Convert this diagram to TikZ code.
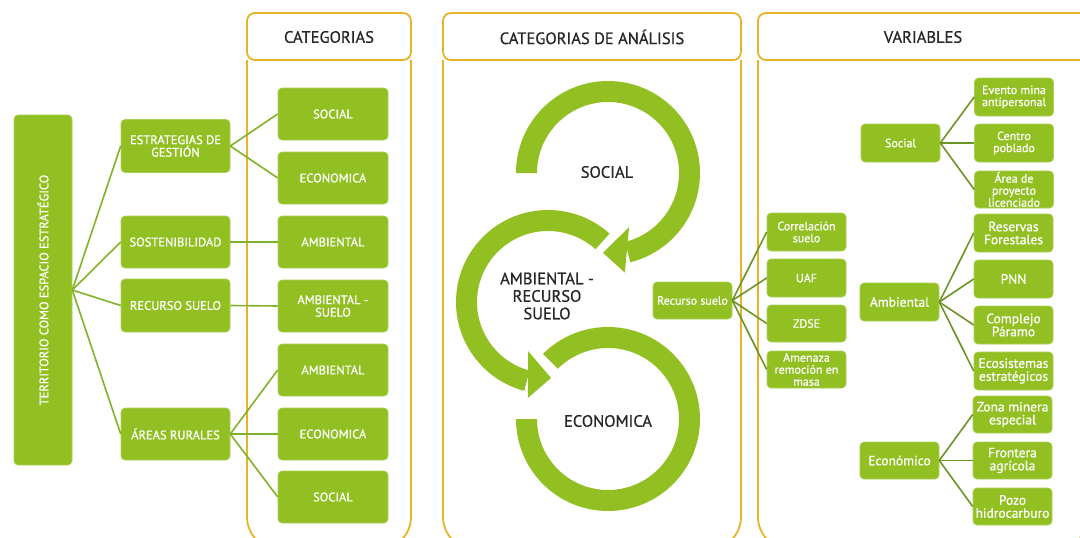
\documentclass[tikz,border=0pt]{standalone}
\usepackage{fontspec}
\setmainfont{PT Sans}[FakeBold=0.7]
\newfontfamily\medf{PT Sans}[FakeBold=0.7]
\definecolor{gr}{RGB}{146,192,35}
\definecolor{grl}{RGB}{170,208,86}
\definecolor{lnA}{RGB}{130,178,42}
\definecolor{lnB}{RGB}{108,148,38}
\definecolor{gold}{RGB}{231,180,40}
\tikzset{
 box/.style={fill=gr, draw=grl, line width=0.6pt, rounded corners=4pt, text=white, align=center, inner sep=1pt},
 fntA/.style={font=\medf\fontsize{12.5}{12.5}\selectfont},
 fntB/.style={font=\medf\fontsize{12}{12}\selectfont},
 fntC/.style={font=\medf\fontsize{13.5}{13}\selectfont},
 lbox/.style={box, fntA, minimum width=109pt, minimum height=53pt},
 cbox/.style={box, fntA, minimum width=110pt, minimum height=52pt},
 vbox/.style={box, minimum width=79pt, minimum height=38pt},
 pan/.style={draw=gold, line width=1.8pt},
 conA/.style={draw=lnA, line width=1.6pt},
 conB/.style={draw=lnB, line width=1.6pt},
 ttl/.style={font=\medf\fontsize{16.5}{17.5}\selectfont, text=black!85, align=center, inner sep=0pt}
}
\begin{document}
\begin{tikzpicture}[x=1pt,y=1pt]
\useasboundingbox (0,0) rectangle (1080,-538);
\clip (0,0) rectangle (1080,-538);
\fill[white] (0,0) rectangle (1080,-538);

% panels
\draw[pan, rounded corners=8pt] (247,-13) rectangle (411,-60);
\draw[pan, rounded corners=32pt] (247,-60) -- (247,-549) -- (411,-549) -- (411,-60);
\node[ttl] (h1) at (329,-37) {CATEGORIAS};
\draw[pan, rounded corners=8pt] (443,-13) rectangle (741,-60);
\draw[pan, rounded corners=32pt] (443,-60) -- (443,-549) -- (741,-549) -- (741,-60);
\node[ttl] (h2) at (592,-37) {CATEGORIAS DE ANÁLISIS};
\draw[pan, rounded corners=8pt] (758,-13) rectangle (1088,-60);
\draw[pan, rounded corners=32pt] (758,-60) -- (758,-549) -- (1088,-549) -- (1088,-60);
\node[ttl] (h3) at (923,-37) {VARIABLES};

% left tree
\node[box, fntA, minimum width=350pt, minimum height=58pt, rotate=90] (terr) at (43,-290) {TERRITORIO COMO ESPACIO ESTRATÉGICO};
\node[lbox] (est) at (175.5,-146) {ESTRATEGIAS DE\\GESTIÓN};
\node[lbox, minimum height=52pt] (sos) at (175.5,-242) {SOSTENIBILIDAD};
\node[lbox] (rec) at (175.5,-305.5) {RECURSO SUELO};
\node[lbox, minimum height=52pt] (are) at (175.5,-434) {ÁREAS RURALES};

\node[cbox] (c1) at (333,-114) {SOCIAL};
\node[cbox] (c2) at (333,-178) {ECONOMICA};
\node[cbox] (c3) at (333,-242) {AMBIENTAL};
\node[cbox] (c4) at (333,-306) {AMBIENTAL -\\SUELO};
\node[cbox] (c5) at (333,-370) {AMBIENTAL};
\node[cbox] (c6) at (333,-434) {ECONOMICA};
\node[cbox] (c7) at (333,-497) {SOCIAL};

\foreach \n in {est,sos,rec,are} \draw[conA] (terr.south) -- (\n.west);
\draw[conA] (est.east) -- (c1.west);
\draw[conA] (est.east) -- (c2.west);
\draw[conA] (sos.east) -- (c3.west);
\draw[conA] (rec.east) -- (c4.west);
\draw[conA] (are.east) -- (c5.west);
\draw[conA] (are.east) -- (c6.west);
\draw[conA] (are.east) -- (c7.west);

% circular arrows
\coordinate (cs) at (608,-173);
\coordinate (ca) at (548,-302);
\coordinate (ce) at (608,-419);
\fill[gr] ([shift={(cs)}]180:92pt) arc[start angle=180, end angle=-76, radius=92pt]
  -- ([shift={(cs)}]-76:71pt) arc[start angle=-76, end angle=180, radius=71pt] -- cycle;
\fill[gr] ([shift={(cs)}]-68.7:58pt) -- ([shift={(cs)}]-93.6:80pt) -- ([shift={(cs)}]-80.4:101pt) -- cycle;
\fill[gr] ([shift={(ca)}]48:92pt) arc[start angle=48, end angle=255, radius=92pt]
  -- ([shift={(ca)}]255:71pt) arc[start angle=255, end angle=48, radius=71pt] -- cycle;
\fill[gr] ([shift={(ca)}]-112:53pt) -- ([shift={(ca)}]-87.7:76pt) -- ([shift={(ca)}]-101.8:98pt) -- cycle;
\fill[gr] ([shift={(ce)}]135:92pt) arc[start angle=135, end angle=-180, radius=92pt]
  -- ([shift={(ce)}]-180:71pt) arc[start angle=-180, end angle=135, radius=71pt] -- cycle;
\node[ttl] (tsoc) at (607,-172) {SOCIAL};
\node[ttl] (tamb) at (547,-296) {AMBIENTAL -\\RECURSO\\SUELO};
\node[ttl] (teco) at (608,-421) {ECONOMICA};

% recurso suelo
\node[vbox, fntB, minimum height=37pt] (rs) at (692.5,-300.5) {Recurso suelo};
\node[vbox, fntB] (corr) at (806.5,-232) {Correlación\\suelo};
\node[vbox, fntB] (uaf) at (806.5,-278) {UAF};
\node[vbox, fntB, minimum height=37pt] (zdse) at (806.5,-323.5) {ZDSE};
\node[vbox, fntB, minimum height=37pt] (amen) at (806.5,-369.5) {Amenaza\\remoción en\\masa};
\foreach \n in {corr,uaf,zdse,amen} \draw[conB] (rs.east) -- (\n.west);

% variables
\node[vbox, fntB] (vsoc) at (900.5,-143) {Social};
\node[vbox, fntB] (ev) at (1014,-97) {Evento mina\\antipersonal};
\node[vbox, fntB] (cp) at (1014,-143) {Centro\\poblado};
\node[vbox, fntB, minimum height=37pt] (ap) at (1014,-189.5) {Área de\\proyecto\\licenciado};
\foreach \n in {ev,cp,ap} \draw[conB] (vsoc.east) -- (\n.west);

\node[vbox, fntC] (vamb) at (899.5,-302) {Ambiental};
\node[vbox, fntC] (rf) at (1013.5,-233) {Reservas\\Forestales};
\node[vbox, fntC] (pnn) at (1013.5,-279) {PNN};
\node[vbox, fntC] (cpa) at (1013.5,-325) {Complejo\\Páramo};
\node[vbox, fntC] (ecs) at (1013.5,-371) {Ecosistemas\\estratégicos};
\foreach \n in {rf,pnn,cpa,ecs} \draw[conB] (vamb.east) -- (\n.west);

\node[vbox, fntC, minimum height=37pt] (veco) at (899.5,-460.5) {Económico};
\node[vbox, fntC, minimum height=37pt] (zm) at (1012.5,-414.5) {Zona minera\\especial};
\node[vbox, fntC, minimum height=37pt] (fag) at (1012.5,-460.5) {Frontera\\agrícola};
\node[vbox, fntC, minimum height=37pt] (ph) at (1012.5,-506.5) {Pozo\\hidrocarburo};
\foreach \n in {zm,fag,ph} \draw[conB] (veco.east) -- (\n.west);
\end{tikzpicture}
\end{document}
